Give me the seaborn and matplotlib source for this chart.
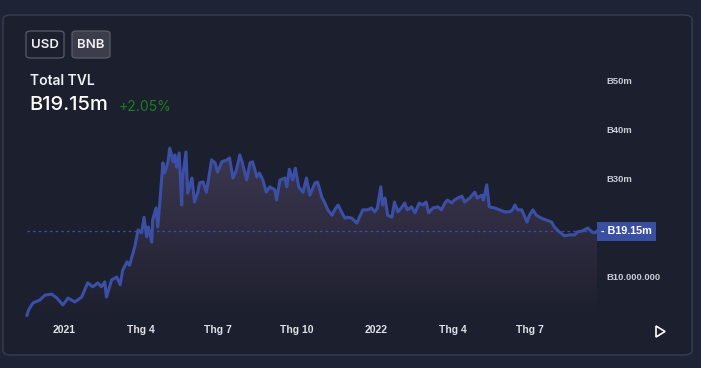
import pandas as pd
import numpy as np
import matplotlib
matplotlib.use("Agg")
import matplotlib.pyplot as plt
import matplotlib.dates as mdates
from matplotlib.patches import FancyBboxPatch, Polygon
from matplotlib.colors import LinearSegmentedColormap
import seaborn as sns

# du lieu doc tu hinh (trieu BNB)
ngay = ["2020-11-19", "2020-11-21", "2020-11-26", "2020-12-04", "2020-12-10", "2020-12-18",
        "2020-12-24", "2020-12-31", "2021-01-06", "2021-01-14", "2021-01-22", "2021-01-29",
        "2021-02-04", "2021-02-10", "2021-02-14", "2021-02-18", "2021-02-20", "2021-02-26",
        "2021-03-04", "2021-03-08", "2021-03-11", "2021-03-16", "2021-03-19", "2021-03-25",
        "2021-03-29", "2021-04-02", "2021-04-05", "2021-04-08", "2021-04-10", "2021-04-14",
        "2021-04-15", "2021-04-19", "2021-04-21", "2021-04-23", "2021-04-27", "2021-04-29",
        "2021-05-03", "2021-05-05", "2021-05-09", "2021-05-11", "2021-05-13", "2021-05-16",
        "2021-05-19", "2021-05-20", "2021-05-24", "2021-05-26", "2021-05-31", "2021-06-03",
        "2021-06-07", "2021-06-09", "2021-06-13", "2021-06-17", "2021-06-23", "2021-06-27",
        "2021-06-30", "2021-07-05", "2021-07-11", "2021-07-14", "2021-07-18", "2021-07-22",
        "2021-07-26", "2021-07-29", "2021-08-03", "2021-08-07", "2021-08-10", "2021-08-15",
        "2021-08-18", "2021-08-22", "2021-08-26", "2021-08-30", "2021-09-05", "2021-09-07",
        "2021-09-11", "2021-09-17", "2021-09-19", "2021-09-22", "2021-09-26", "2021-09-29",
        "2021-10-03", "2021-10-08", "2021-10-12", "2021-10-16", "2021-10-22", "2021-10-25",
        "2021-10-30", "2021-11-02", "2021-11-06", "2021-11-11", "2021-11-14", "2021-11-18",
        "2021-11-22", "2021-11-26", "2021-11-29", "2021-12-04", "2021-12-10", "2021-12-13",
        "2021-12-17", "2021-12-23", "2021-12-27", "2021-12-31", "2022-01-03", "2022-01-07",
        "2022-01-09", "2022-01-12", "2022-01-15", "2022-01-20", "2022-01-23", "2022-01-27",
        "2022-01-31", "2022-02-04", "2022-02-07", "2022-02-12", "2022-02-16", "2022-02-21",
        "2022-02-25", "2022-03-01", "2022-03-04", "2022-03-09", "2022-03-15", "2022-03-19",
        "2022-03-23", "2022-03-26", "2022-03-31", "2022-04-03", "2022-04-07", "2022-04-12",
        "2022-04-15", "2022-04-21", "2022-04-27", "2022-04-30", "2022-05-05", "2022-05-07",
        "2022-05-11", "2022-05-12", "2022-05-14", "2022-05-20", "2022-05-26", "2022-06-01",
        "2022-06-07", "2022-06-10", "2022-06-13", "2022-06-16", "2022-06-21", "2022-06-27",
        "2022-06-30", "2022-07-04", "2022-07-08", "2022-07-14", "2022-07-20", "2022-07-26",
        "2022-07-29", "2022-08-04", "2022-08-10", "2022-08-16", "2022-08-22", "2022-08-25",
        "2022-08-31", "2022-09-06", "2022-09-11", "2022-09-14", "2022-09-17"]
tvl = [2.0, 3.1, 4.5, 5.1, 6.1, 6.3,
       5.5, 4.1, 5.5, 4.7, 5.7, 8.6,
       7.8, 8.6, 7.8, 8.8, 5.7, 9.2,
       9.8, 8.2, 11.2, 12.9, 12.2, 15.9,
       19.4, 18.8, 22.0, 18.0, 20.0, 16.9,
       21.4, 23.9, 20.0, 24.1, 33.1, 31.0,
       33.3, 36.1, 33.3, 34.7, 32.2, 35.1,
       24.5, 30.0, 35.3, 26.9, 30.0, 25.1,
       27.1, 29.0, 29.2, 27.1, 33.7, 33.1,
       31.2, 33.3, 33.7, 34.1, 30.0, 31.6,
       34.7, 33.1, 29.6, 33.1, 33.3, 30.2,
       31.0, 29.6, 27.1, 28.2, 27.6, 25.5,
       29.6, 30.0, 28.2, 31.8, 29.6, 32.0,
       28.2, 27.1, 30.0, 26.5, 29.0, 29.2,
       26.1, 25.1, 23.5, 22.4, 23.5, 24.5,
       23.1, 21.8, 22.0, 21.8, 20.8, 22.0,
       23.5, 23.5, 23.9, 23.1, 23.9, 28.2,
       24.5, 25.9, 22.4, 22.0, 25.1, 23.1,
       23.9, 24.9, 23.5, 24.1, 22.9, 24.9,
       24.5, 25.1, 22.9, 23.9, 24.1, 23.5,
       24.9, 25.5, 24.9, 25.5, 25.9, 26.3,
       25.1, 25.9, 27.1, 25.9, 26.5, 25.5,
       28.6, 27.1, 24.1, 23.9, 23.5, 23.1,
       23.1, 23.5, 24.5, 23.5, 23.5, 21.0,
       22.4, 23.5, 22.4, 21.8, 21.4, 21.0,
       20.0, 19.0, 18.2, 18.4, 18.4, 19.0,
       19.2, 19.8, 19.0, 18.8, 19.15]

tick_ngay = ["2021-01-01", "2021-04-01", "2021-07-01", "2021-10-01",
             "2022-01-01", "2022-04-01", "2022-07-01"]
tick_nhan = ["2021", "Thg 4", "Thg 7", "Thg 10", "2022", "Thg 4", "Thg 7"]
y_ticks = [10, 30, 40, 50]
y_nhan = ["B10.000.000", "B30m", "B40m", "B50m"]
gia_cuoi = 19.15
tong_tvl = "B19.15m"
thay_doi = "+2.05%"

df = pd.DataFrame({"ngay": pd.to_datetime(ngay), "tvl": tvl})

W, H = 701, 368
def px(x, y):
    return (x / W, 1 - y / H)

xanh = "#3b4fa6"
nen = "#1f2336"
chu_truc = "Liberation Sans"

fig = plt.figure(figsize=(W / 100, H / 100), dpi=100, facecolor=nen)

# the card
the = FancyBboxPatch(px(3, 355), 689 / W, 340 / H,
                     boxstyle="round,pad=0,rounding_size=0.012",
                     transform=fig.transFigure, facecolor="#1c1f2d",
                     edgecolor="#3a3e4b", linewidth=1.0, zorder=-5)
fig.patches.append(the)

ax = fig.add_axes([27 / W, 1 - 318 / H, 570 / W, 238 / H])
ax.set_zorder(3)
ax.set_facecolor("none")

x0 = mdates.date2num(df.ngay.iloc[0])
x1 = mdates.date2num(df.ngay.iloc[-1])
y_min = 1.43

# vung to mau gradient
poly = ax.fill_between(df.ngay, df.tvl, y_min, color="none")
cmap = LinearSegmentedColormap.from_list("g", ["#1c1f2d", "#2f2c41", "#3d3952"])
grad = np.linspace(0, 1, 256).reshape(-1, 1)
img = ax.imshow(grad, extent=[x0, x1, y_min, 38], origin="lower", aspect="auto",
                cmap=cmap, zorder=1)
path = poly.get_paths()[0]
img.set_clip_path(path, transform=ax.transData)

sns.lineplot(data=df, x="ngay", y="tvl", ax=ax, color=xanh, linewidth=2.2, zorder=3)
for ln in ax.get_lines():
    ln.set_clip_on(False)
ax.axhline(gia_cuoi, color=xanh, ls=(0, (2, 2.5)), lw=0.9, zorder=2)

ax.set_xlim(x0, x1)
ax.set_ylim(y_min, 50)
for s in ax.spines.values():
    s.set_visible(False)
ax.grid(False)
ax.set_xlabel("")
ax.set_ylabel("")

ax.set_xticks(pd.to_datetime(tick_ngay), tick_nhan)
ax.tick_params(axis="x", length=0, pad=5, labelsize=7.5, labelcolor="#e0e0e8")
for t in ax.get_xticklabels():
    t.set_fontweight("bold")
    t.set_family(chu_truc)

ax.yaxis.tick_right()
ax.set_yticks(y_ticks, y_nhan)
ax.tick_params(axis="y", length=0, pad=7, labelsize=6.8, labelcolor="#c9cad2")
for t in ax.get_yticklabels():
    t.set_fontweight("bold")
    t.set_family(chu_truc)

# nhan gia hien tai
ax.annotate("- " + tong_tvl, xy=(1.0, gia_cuoi), xycoords=("axes fraction", "data"),
            xytext=(3, 0), textcoords="offset points", ha="left", va="center",
            fontsize=7.8, fontweight="bold", color="white", family=chu_truc,
            bbox=dict(boxstyle="square,pad=0.4", facecolor="#3b4fa0", edgecolor="none"))

# nut USD / BNB
for (xa, nhan, mau) in [(26, "USD", "none"), (72, "BNB", "#3b3e4a")]:
    nut = FancyBboxPatch(px(xa, 58), 38 / W, 27 / H,
                         boxstyle="round,pad=0,rounding_size=0.007",
                         transform=fig.transFigure, facecolor=mau,
                         edgecolor="#5a5d68", linewidth=0.9)
    fig.patches.append(nut)
    fig.text(*px(xa + 19, 45), nhan, ha="center", va="center", fontsize=9.5,
             fontweight="semibold", color="#f0f0f4", family="Inter")

fig.text(*px(30, 81), "Total TVL", ha="left", va="center", fontsize=10,
         fontweight="semibold", color="#f0f0f4", family="Inter")
fig.text(*px(29, 105), tong_tvl, ha="left", va="center", fontsize=14.5,
         fontweight="medium", color="white", family="Inter")
fig.text(*px(119, 107), thay_doi, ha="left", va="center", fontsize=10,
         color="#188020", family="Inter")

# nut play
tam_giac = Polygon([px(656, 326), px(656, 337), px(665, 331.5)], closed=True,
                   transform=fig.transFigure, facecolor="none", edgecolor="white",
                   linewidth=1.2)
fig.patches.append(tam_giac)

fig.savefig("out.png", dpi=100, facecolor=fig.get_facecolor())
